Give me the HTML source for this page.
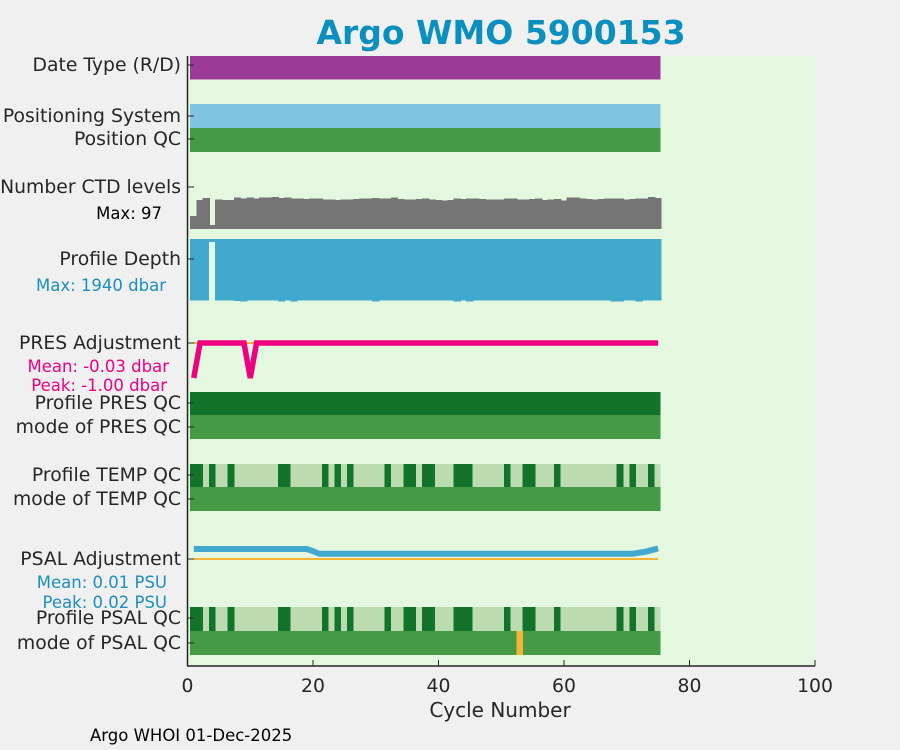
<!DOCTYPE html>
<html><head><meta charset="utf-8"><style>
html,body{margin:0;padding:0;background:#f0f0f0;}
svg{display:block;font-family:"DejaVu Sans","Liberation Sans",sans-serif;}
rect{shape-rendering:crispEdges;}
</style></head><body>
<svg id="c" width="900" height="750" viewBox="0 0 900 750">
<rect x="0" y="0" width="900" height="750" fill="#f0f0f0"/>
<text x="501" y="44" text-anchor="middle" font-size="33" font-weight="bold" fill="#0a8fbf">Argo WMO 5900153</text>
<rect x="187.5" y="56" width="627.5" height="610" fill="#e4f8e0"/>
<g id="marks"></g>
<g id="axes" fill="#262626" font-size="18.8"></g>
<text x="500" y="717" text-anchor="middle" font-size="20" fill="#262626">Cycle Number</text>
<text x="90" y="741" font-size="16.5" fill="#000">Argo WHOI 01-Dec-2025</text>
</svg>
<script>
const NS='http://www.w3.org/2000/svg';
const nCycles=75;
const xTicks=[0,20,40,60,80,100];
const ctdLevels=[40,88,94,12,90,88,88,95,92,96,93,95,96,97,94,95,93,92,91,93,92,90,89,88,89,90,91,92,93,94,92,93,95,91,89,90,91,92,90,88,87,88,92,91,92,92,91,90,89,90,93,92,90,89,91,93,88,90,91,86,96,96,92,91,90,91,92,93,92,90,91,92,93,97,94];
const profDepth=[1910,1910,1910,90,1910,1910,1910,1925,1935,1910,1910,1910,1910,1910,1930,1910,1935,1910,1910,1910,1910,1910,1910,1910,1910,1910,1910,1910,1910,1930,1910,1910,1910,1910,1910,1910,1910,1910,1910,1910,1910,1910,1930,1910,1935,1910,1910,1910,1910,1910,1910,1910,1910,1910,1910,1910,1910,1910,1910,1910,1910,1910,1910,1910,1910,1910,1910,1935,1935,1910,1910,1935,1910,1910,1910];
const presAdj=[-1,0,0,0,0,0,0,0,0,-1];
const tempQcBad=[1,2,4,7,15,16,22,24,26,32,35,36,38,39,43,44,45,51,54,55,59,69,71,74];
const psalQcBad=[1,2,4,7,15,16,22,24,26,32,35,36,38,39,43,44,45,51,54,55,59,69,71,74];
const psalModeBad=[53];
const psalAdjStart=[0.019,0.019,0.019,0.019,0.019,0.019,0.019,0.019,0.019,0.019,0.019,0.019,0.019,0.019,0.019,0.019,0.019,0.019,0.019,0.015];
const psalAdjEnd=[0.012,0.014,0.017,0.02];
const rowLabels=[["Date Type (R/D)",65],["Positioning System",116],["Position QC",139],["Number CTD levels",187],["Profile Depth",259],["PRES Adjustment",343],["Profile PRES QC",403],["mode of PRES QC",427],["Profile TEMP QC",475],["mode of TEMP QC",499],["PSAL Adjustment",559],["Profile PSAL QC",618],["mode of PSAL QC",643]];

const X=v=>187.5+v*6.275;
const marks=document.getElementById('marks'), axes=document.getElementById('axes');
function el(tag,attrs,parent){const e=document.createElementNS(NS,tag);for(const k in attrs)e.setAttribute(k,attrs[k]);(parent||marks).appendChild(e);return e;}
const bx=c=>X(c-0.6), bw=6.3;
function band(y,h,color,name){const r=el('rect',{x:bx(1),y:y,width:X(nCycles+0.4)-bx(1),height:h,fill:color});

}
band(56,23.5,'#9b3a97','date-type-band');
band(104,24,'#7fc4e0','positioning-system-band');
band(128,24,'#459a46','position-qc-band');
band(392,23,'#12742a','profile-pres-qc-band');
band(415,24,'#459a46','mode-pres-qc-band');
band(464,23,'#bddbb0','profile-temp-qc-band');
band(487,24,'#459a46','mode-temp-qc-band');
band(607,24,'#bddbb0','profile-psal-qc-band');
band(631,24,'#459a46','mode-psal-qc-band');
function qcBars(list,y,h,color,name){list.forEach(c=>{const r=el('rect',{x:bx(c),y:y,width:bw+0.3,height:h,fill:color});

});}
qcBars(tempQcBad,464,23,'#12742a','temp-qc-bar');
qcBars(psalQcBad,607,24,'#12742a','psal-qc-bar');
qcBars(psalModeBad,631,24,'#f7b334','psal-mode-bar');
ctdLevels.forEach((v,i)=>{const h=32*v/97;const r=el('rect',{x:bx(i+1),y:229-h,width:bw+1,height:h,fill:'#757575'});

});
profDepth.forEach((v,i)=>{const r=el('rect',{x:bx(i+1),y:239,width:(i===2?bw:bw+1),height:62.7*v/1940,fill:'#42a9ce'});

});
// PRES adjustment
let z=el('line',{x1:X(1),x2:X(nCycles),y1:343,y2:343,stroke:'#f7b334','stroke-width':2});


const pres=[];for(let c=1;c<=nCycles;c++)pres.push(c<=presAdj.length?presAdj[c-1]:0);
let p=el('polyline',{points:pres.map((v,i)=>X(i+1)+','+(343-35*v)).join(' '),fill:'none',stroke:'#ee0080','stroke-width':5.5});


// PSAL adjustment
z=el('line',{x1:X(1),x2:X(nCycles),y1:559,y2:559,stroke:'#f7b334','stroke-width':2});


const psal=[];for(let c=1;c<=nCycles;c++){if(c<=psalAdjStart.length)psal.push(psalAdjStart[c-1]);else if(c>nCycles-psalAdjEnd.length)psal.push(psalAdjEnd[c-(nCycles-psalAdjEnd.length)-1]);else psal.push(0.01);}
p=el('polyline',{points:psal.map((v,i)=>X(i+1)+','+(559-525*v)).join(' '),fill:'none',stroke:'#42a9ce','stroke-width':6});


// axes
let a=el('line',{x1:187.5,x2:187.5,y1:56,y2:666,stroke:'#262626','stroke-width':1.5},axes);


a=el('line',{x1:187,x2:815,y1:666,y2:666,stroke:'#262626','stroke-width':1.5},axes);


xTicks.forEach(t=>{const l=el('line',{x1:X(t),x2:X(t),y1:666,y2:660,stroke:'#262626'},axes);


const tx=el('text',{x:X(t),y:692,'text-anchor':'middle'},axes);tx.textContent=t;

});
rowLabels.forEach(([s,y])=>{const l=el('line',{x1:187.5,x2:194,y1:y,y2:y,stroke:'#262626'},axes);


const tx=el('text',{x:181,y:y+6,'text-anchor':'end'},axes);tx.textContent=s;

});
const notes=[["Max: 97",162,219,'#000'],["Max: 1940 dbar",166,291,'#1a8fc0'],["Mean: -0.03 dbar",169,372,'#ee0080'],["Peak: -1.00 dbar",167,391,'#ee0080'],["Mean: 0.01 PSU",167,588,'#1a8fc0'],["Peak: 0.02 PSU",167,608,'#1a8fc0']];
notes.forEach(([s,x,y,c])=>{const tx=el('text',{x:x,y:y,'text-anchor':'end','font-size':16.5,fill:c},axes);tx.textContent=s;

});
</script>
</body></html>
